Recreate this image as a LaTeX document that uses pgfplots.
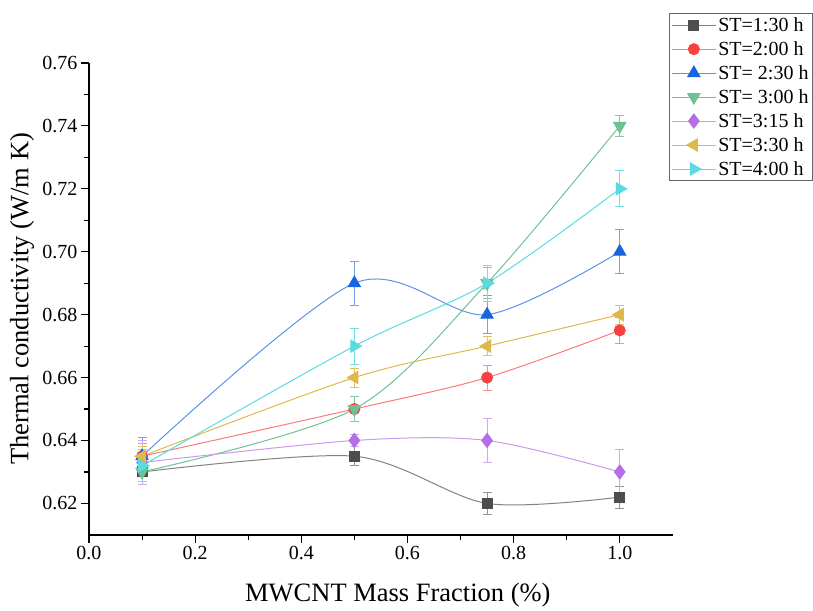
\documentclass[border=0pt]{standalone}
\usepackage{fontspec}
\setmainfont{Liberation Serif}
\usepackage{pgfplots}
\pgfplotsset{compat=1.18}

\definecolor{cGray}{HTML}{4D4D4D}
\definecolor{cRed}{HTML}{F94141}
\definecolor{cBlue}{HTML}{1764E0}
\definecolor{cGreen}{HTML}{2EA865}
\definecolor{cPurple}{HTML}{B46EE6}
\definecolor{cGold}{HTML}{D19A00}
\definecolor{cCyan}{HTML}{12CCD4}

\pgfplotsset{
  st/.style={
    color=#1!70!white, line width=1pt, smooth, tension=0.5,
    mark options={fill=#1, draw=#1, solid},
    error bars/y dir=both, error bars/y explicit,
    error bars/error mark=-,
    error bars/error bar style={color=#1!60!white, line width=0.9pt},
    error bars/error mark options={color=#1!60!white, line width=0.9pt, mark size=4.5pt, rotate=90},
  },
}

\begin{document}
\begin{tikzpicture}
\begin{axis}[
    scale only axis,
    width=584pt, height=472pt,
    xmin=0, xmax=1.1, ymin=0.61, ymax=0.76,
    axis x line*=bottom, axis y line*=left,
    axis line style={line width=1.3pt, -},
    tick align=outside,
    tick style={line width=1.1pt, black},
    major tick length=8pt, minor tick length=5pt,
    xtick={0,0.2,...,1.0}, minor x tick num=1,
    ytick={0.62,0.64,...,0.76}, minor y tick num=1,
    /pgf/number format/assume math mode=true,
    xticklabel style={font=\fontsize{20}{24}\selectfont, /pgf/number format/.cd, fixed, fixed zerofill, precision=1},
    yticklabel style={font=\fontsize{20}{24}\selectfont, /pgf/number format/.cd, fixed, fixed zerofill, precision=2},
    xlabel={MWCNT Mass Fraction (\%)},
    ylabel={Thermal conductivity (W/m K)},
    label style={font=\fontsize{26.5}{30}\selectfont},
    xlabel style={at={(axis description cs:0.529,0)}, anchor=base, yshift=-67pt},
    ylabel style={at={(axis description cs:-0.1147,0.5)}, anchor=center},
    clip=false,
    legend cell align=left,
    legend style={at={(0.9932,1.1059)}, anchor=north west, draw=black!60, line width=1pt,
        font=\fontsize{20}{22}\selectfont, row sep=4.6pt, inner sep=2pt},
    legend image code/.code={\draw[mark repeat=2, mark phase=2] plot coordinates {(0pt,0pt) (22pt,0pt) (44pt,0pt)};},
]
\addplot[st=cGray, mark=square*, mark size=5pt] coordinates {
  (0.1,0.630) +- (0,0.003)
  (0.5,0.635) +- (0,0.003)
  (0.75,0.620) +- (0,0.0035)
  (1.0,0.622) +- (0,0.0035)
};
\addlegendentry{ST=1:30 h}
\addplot[st=cRed, mark=*, mark size=5.5pt] coordinates {
  (0.1,0.635) +- (0,0.004)
  (0.5,0.650) +- (0,0.004)
  (0.75,0.660) +- (0,0.004)
  (1.0,0.675) +- (0,0.004)
};
\addlegendentry{ST=2:00 h}
\addplot[st=cBlue, mark=triangle*, mark size=7pt] coordinates {
  (0.1,0.635) +- (0,0.006)
  (0.5,0.690) +- (0,0.007)
  (0.75,0.680) +- (0,0.006)
  (1.0,0.700) +- (0,0.007)
};
\addlegendentry{ST= 2:30 h}
\addplot[st=cGreen, mark=triangle*, mark size=7pt, mark options={rotate=180}] coordinates {
  (0.1,0.630) +- (0,0.004)
  (0.5,0.650) +- (0,0.004)
  (0.75,0.690) +- (0,0.005)
  (1.0,0.740) +- (0,0.0034)
};
\addlegendentry{ST= 3:00 h}
\addplot[st=cPurple, mark=diamond*, mark size=7pt] coordinates {
  (0.1,0.633) +- (0,0.007)
  (0.5,0.640) +- (0,0.002)
  (0.75,0.640) +- (0,0.007)
  (1.0,0.630) +- (0,0.007)
};
\addlegendentry{ST=3:15 h}
\addplot[st=cGold, mark=triangle*, mark size=7pt, mark options={rotate=90}] coordinates {
  (0.1,0.635) +- (0,0.003)
  (0.5,0.660) +- (0,0.003)
  (0.75,0.670) +- (0,0.003)
  (1.0,0.680) +- (0,0.003)
};
\addlegendentry{ST=3:30 h}
\addplot[st=cCyan, mark=triangle*, mark size=7pt, mark options={rotate=270}] coordinates {
  (0.1,0.632) +- (0,0.005)
  (0.5,0.670) +- (0,0.0057)
  (0.75,0.690) +- (0,0.0057)
  (1.0,0.720) +- (0,0.0057)
};
\addlegendentry{ST=4:00 h}
\end{axis}
\path (current axis.south west) ++(-89pt,-71pt) rectangle ++(813pt,606pt);
\end{tikzpicture}
\end{document}
